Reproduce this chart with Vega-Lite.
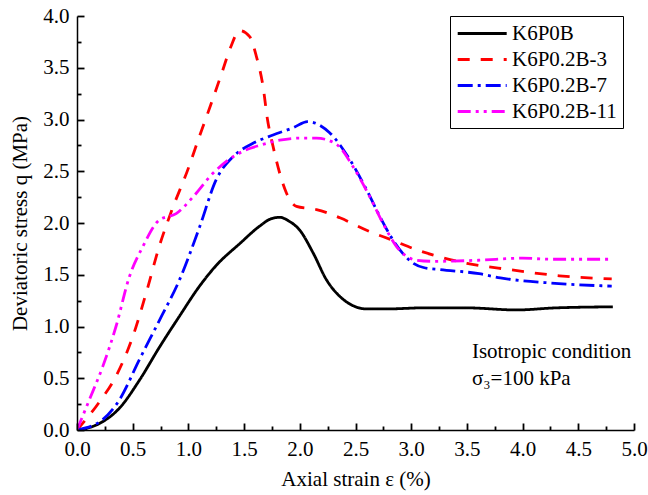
{
  "$schema": "https://vega.github.io/schema/vega-lite/v6.json",
  "width": 557,
  "height": 414,
  "autosize": {"type": "none"},
  "padding": {"left": 77, "top": 16, "right": 14, "bottom": 65},
  "background": "white",
  "datasets": {
    "curves": [
      {"sample": "K6P0B", "x": 0, "y": 0},
      {"sample": "K6P0B", "x": 0.1, "y": 0.02},
      {"sample": "K6P0B", "x": 0.23, "y": 0.08},
      {"sample": "K6P0B", "x": 0.38, "y": 0.21},
      {"sample": "K6P0B", "x": 0.56, "y": 0.48},
      {"sample": "K6P0B", "x": 0.74, "y": 0.8},
      {"sample": "K6P0B", "x": 0.92, "y": 1.1},
      {"sample": "K6P0B", "x": 1.1, "y": 1.39},
      {"sample": "K6P0B", "x": 1.25, "y": 1.59},
      {"sample": "K6P0B", "x": 1.46, "y": 1.8},
      {"sample": "K6P0B", "x": 1.64, "y": 1.97},
      {"sample": "K6P0B", "x": 1.74, "y": 2.04},
      {"sample": "K6P0B", "x": 1.82, "y": 2.055},
      {"sample": "K6P0B", "x": 1.9, "y": 2.02},
      {"sample": "K6P0B", "x": 2.0, "y": 1.93},
      {"sample": "K6P0B", "x": 2.12, "y": 1.71},
      {"sample": "K6P0B", "x": 2.24, "y": 1.45},
      {"sample": "K6P0B", "x": 2.36, "y": 1.29},
      {"sample": "K6P0B", "x": 2.48, "y": 1.2},
      {"sample": "K6P0B", "x": 2.6, "y": 1.17},
      {"sample": "K6P0B", "x": 2.8, "y": 1.17},
      {"sample": "K6P0B", "x": 3.1, "y": 1.18},
      {"sample": "K6P0B", "x": 3.5, "y": 1.18},
      {"sample": "K6P0B", "x": 3.94, "y": 1.16},
      {"sample": "K6P0B", "x": 4.3, "y": 1.18},
      {"sample": "K6P0B", "x": 4.81, "y": 1.19},

      {"sample": "K6P0.2B-3", "x": 0, "y": 0},
      {"sample": "K6P0.2B-3", "x": 0.2, "y": 0.27},
      {"sample": "K6P0.2B-3", "x": 0.35, "y": 0.52},
      {"sample": "K6P0.2B-3", "x": 0.5, "y": 0.9},
      {"sample": "K6P0.2B-3", "x": 0.62, "y": 1.32},
      {"sample": "K6P0.2B-3", "x": 0.74, "y": 1.78},
      {"sample": "K6P0.2B-3", "x": 0.85, "y": 2.12},
      {"sample": "K6P0.2B-3", "x": 1.0, "y": 2.53},
      {"sample": "K6P0.2B-3", "x": 1.1, "y": 2.84},
      {"sample": "K6P0.2B-3", "x": 1.2, "y": 3.14},
      {"sample": "K6P0.2B-3", "x": 1.3, "y": 3.45},
      {"sample": "K6P0.2B-3", "x": 1.38, "y": 3.7},
      {"sample": "K6P0.2B-3", "x": 1.46, "y": 3.86},
      {"sample": "K6P0.2B-3", "x": 1.55, "y": 3.8},
      {"sample": "K6P0.2B-3", "x": 1.61, "y": 3.61},
      {"sample": "K6P0.2B-3", "x": 1.67, "y": 3.32},
      {"sample": "K6P0.2B-3", "x": 1.71, "y": 3.0},
      {"sample": "K6P0.2B-3", "x": 1.76, "y": 2.74},
      {"sample": "K6P0.2B-3", "x": 1.82, "y": 2.48},
      {"sample": "K6P0.2B-3", "x": 1.88, "y": 2.29},
      {"sample": "K6P0.2B-3", "x": 1.97, "y": 2.16},
      {"sample": "K6P0.2B-3", "x": 2.15, "y": 2.13},
      {"sample": "K6P0.2B-3", "x": 2.36, "y": 2.05},
      {"sample": "K6P0.2B-3", "x": 2.6, "y": 1.93},
      {"sample": "K6P0.2B-3", "x": 2.84, "y": 1.83},
      {"sample": "K6P0.2B-3", "x": 3.05, "y": 1.74},
      {"sample": "K6P0.2B-3", "x": 3.2, "y": 1.69},
      {"sample": "K6P0.2B-3", "x": 3.5, "y": 1.61},
      {"sample": "K6P0.2B-3", "x": 3.88, "y": 1.55},
      {"sample": "K6P0.2B-3", "x": 4.33, "y": 1.49},
      {"sample": "K6P0.2B-3", "x": 4.8, "y": 1.46},

      {"sample": "K6P0.2B-7", "x": 0, "y": 0},
      {"sample": "K6P0.2B-7", "x": 0.23, "y": 0.1},
      {"sample": "K6P0.2B-7", "x": 0.38, "y": 0.29},
      {"sample": "K6P0.2B-7", "x": 0.56, "y": 0.68},
      {"sample": "K6P0.2B-7", "x": 0.74, "y": 1.06},
      {"sample": "K6P0.2B-7", "x": 0.92, "y": 1.45},
      {"sample": "K6P0.2B-7", "x": 1.1, "y": 1.96},
      {"sample": "K6P0.2B-7", "x": 1.25, "y": 2.42},
      {"sample": "K6P0.2B-7", "x": 1.4, "y": 2.64},
      {"sample": "K6P0.2B-7", "x": 1.58, "y": 2.77},
      {"sample": "K6P0.2B-7", "x": 1.76, "y": 2.85},
      {"sample": "K6P0.2B-7", "x": 1.94, "y": 2.92},
      {"sample": "K6P0.2B-7", "x": 2.07, "y": 2.98},
      {"sample": "K6P0.2B-7", "x": 2.27, "y": 2.87},
      {"sample": "K6P0.2B-7", "x": 2.45, "y": 2.61},
      {"sample": "K6P0.2B-7", "x": 2.6, "y": 2.32},
      {"sample": "K6P0.2B-7", "x": 2.72, "y": 2.06},
      {"sample": "K6P0.2B-7", "x": 2.84, "y": 1.83},
      {"sample": "K6P0.2B-7", "x": 3.02, "y": 1.61},
      {"sample": "K6P0.2B-7", "x": 3.11, "y": 1.57},
      {"sample": "K6P0.2B-7", "x": 3.26, "y": 1.55},
      {"sample": "K6P0.2B-7", "x": 3.61, "y": 1.51},
      {"sample": "K6P0.2B-7", "x": 3.8, "y": 1.47},
      {"sample": "K6P0.2B-7", "x": 4.25, "y": 1.42},
      {"sample": "K6P0.2B-7", "x": 4.8, "y": 1.39},

      {"sample": "K6P0.2B-11", "x": 0, "y": 0},
      {"sample": "K6P0.2B-11", "x": 0.11, "y": 0.29},
      {"sample": "K6P0.2B-11", "x": 0.23, "y": 0.61},
      {"sample": "K6P0.2B-11", "x": 0.35, "y": 1.0},
      {"sample": "K6P0.2B-11", "x": 0.47, "y": 1.48},
      {"sample": "K6P0.2B-11", "x": 0.59, "y": 1.77},
      {"sample": "K6P0.2B-11", "x": 0.74, "y": 2.03},
      {"sample": "K6P0.2B-11", "x": 0.89, "y": 2.09},
      {"sample": "K6P0.2B-11", "x": 1.04, "y": 2.25},
      {"sample": "K6P0.2B-11", "x": 1.22, "y": 2.48},
      {"sample": "K6P0.2B-11", "x": 1.4, "y": 2.64},
      {"sample": "K6P0.2B-11", "x": 1.55, "y": 2.72},
      {"sample": "K6P0.2B-11", "x": 1.64, "y": 2.75},
      {"sample": "K6P0.2B-11", "x": 1.82, "y": 2.8},
      {"sample": "K6P0.2B-11", "x": 2.0, "y": 2.82},
      {"sample": "K6P0.2B-11", "x": 2.15, "y": 2.82},
      {"sample": "K6P0.2B-11", "x": 2.33, "y": 2.76},
      {"sample": "K6P0.2B-11", "x": 2.48, "y": 2.54},
      {"sample": "K6P0.2B-11", "x": 2.63, "y": 2.25},
      {"sample": "K6P0.2B-11", "x": 2.75, "y": 1.99},
      {"sample": "K6P0.2B-11", "x": 2.87, "y": 1.77},
      {"sample": "K6P0.2B-11", "x": 3.05, "y": 1.64},
      {"sample": "K6P0.2B-11", "x": 3.2, "y": 1.63},
      {"sample": "K6P0.2B-11", "x": 3.6, "y": 1.64},
      {"sample": "K6P0.2B-11", "x": 4.0, "y": 1.66},
      {"sample": "K6P0.2B-11", "x": 4.25, "y": 1.65},
      {"sample": "K6P0.2B-11", "x": 4.8, "y": 1.65}
    ],
    "notes": [
      {"x": 3.545, "y": 0.696, "t": "Isotropic condition"},
      {"x": 3.545, "y": 0.435, "t": "σ₃=100 kPa"}
    ]
  },
  "layer": [
    {
      "data": {"name": "curves"},
      "mark": {"type": "line", "strokeWidth": 2.8, "interpolate": "monotone", "clip": true},
      "encoding": {
        "x": {
          "field": "x", "type": "quantitative",
          "scale": {"domain": [0, 5], "nice": false},
          "axis": {
            "orient": "bottom",
            "values": [0, 0.5, 1, 1.5, 2, 2.5, 3, 3.5, 4, 4.5, 5],
            "format": ".1f", "ticks": false, "labelPadding": 8,
            "labelFlush": false, "labelOverlap": false,
            "title": "Axial strain ε (%)", "titlePadding": 9
          }
        },
        "y": {
          "field": "y", "type": "quantitative",
          "scale": {"domain": [0, 4], "nice": false},
          "axis": {
            "orient": "left",
            "values": [0, 0.5, 1, 1.5, 2, 2.5, 3, 3.5, 4],
            "format": ".1f", "ticks": false, "labelPadding": 8,
            "labelFlush": false, "labelOverlap": false,
            "title": "Deviatoric stress q (MPa)", "titlePadding": 12
          }
        },
        "color": {
          "field": "sample", "type": "nominal",
          "scale": {
            "domain": ["K6P0B", "K6P0.2B-3", "K6P0.2B-7", "K6P0.2B-11"],
            "range": ["#000000", "#ff0000", "#0000ff", "#ff00ff"]
          },
          "legend": {
            "orient": "none", "legendX": 373, "legendY": 0, "title": null,
            "symbolType": "M-1,0H4", "symbolSize": 384, "symbolStrokeWidth": 3,
            "labelOffset": 33, "padding": 6, "rowPadding": 4,
            "strokeColor": "black", "fillColor": "white"
          }
        },
        "strokeDash": {
          "field": "sample", "type": "nominal",
          "scale": {
            "domain": ["K6P0B", "K6P0.2B-3", "K6P0.2B-7", "K6P0.2B-11"],
            "range": [[1, 0], [12, 11], [15, 5, 3, 5], [13, 5, 3, 5, 3, 5]]
          },
          "legend": {
            "orient": "none", "legendX": 373, "legendY": 0, "title": null,
            "symbolType": "M-1,0H4", "symbolSize": 384, "symbolStrokeWidth": 3,
            "labelOffset": 33, "padding": 6, "rowPadding": 4,
            "strokeColor": "black", "fillColor": "white"
          }
        }
      }
    },
    {
      "data": {"name": "notes"},
      "mark": {"type": "text", "align": "left", "baseline": "alphabetic", "font": "Liberation Serif", "fontSize": 21, "color": "black"},
      "encoding": {
        "x": {"field": "x", "type": "quantitative", "scale": {"domain": [0, 5], "nice": false}, "axis": null},
        "y": {"field": "y", "type": "quantitative", "scale": {"domain": [0, 4], "nice": false}, "axis": null},
        "text": {"field": "t", "type": "nominal"}
      }
    },
    {
      "data": {"name": "notes"},
      "mark": {"type": "point", "opacity": 0},
      "encoding": {
        "x": {
          "field": "x", "type": "quantitative",
          "scale": {"domain": [0, 5], "nice": false},
          "axis": {
            "orient": "bottom", "offset": -7, "zindex": 2,
            "values": [0, 0.5, 1, 1.5, 2, 2.5, 3, 3.5, 4, 4.5, 5],
            "labels": false, "domain": false, "tickColor": "#000000", "tickWidth": 1.8, "tickSize": 7, "title": null
          }
        },
        "y": {
          "field": "y", "type": "quantitative",
          "scale": {"domain": [0, 4], "nice": false},
          "axis": {
            "orient": "left", "offset": -7, "zindex": 2,
            "values": [0, 0.5, 1, 1.5, 2, 2.5, 3, 3.5, 4],
            "labels": false, "domain": false, "tickColor": "#000000", "tickWidth": 1.8, "tickSize": 7, "title": null
          }
        }
      }
    },
    {
      "data": {"name": "notes"},
      "mark": {"type": "point", "opacity": 0},
      "encoding": {
        "x": {
          "field": "x", "type": "quantitative",
          "scale": {"domain": [0, 5], "nice": false},
          "axis": {
            "orient": "bottom", "offset": -4, "zindex": 2,
            "values": [0.25, 0.75, 1.25, 1.75, 2.25, 2.75, 3.25, 3.75, 4.25, 4.75],
            "labels": false, "domain": false, "tickColor": "#000000", "tickWidth": 1.8, "tickSize": 4, "title": null
          }
        },
        "y": {
          "field": "y", "type": "quantitative",
          "scale": {"domain": [0, 4], "nice": false},
          "axis": {
            "orient": "left", "offset": -4, "zindex": 2,
            "values": [0.25, 0.75, 1.25, 1.75, 2.25, 2.75, 3.25, 3.75],
            "labels": false, "domain": false, "tickColor": "#000000", "tickWidth": 1.8, "tickSize": 4, "title": null
          }
        }
      }
    }
  ],
  "resolve": {"axis": {"x": "independent", "y": "independent"}},
  "config": {
    "view": {"stroke": null},
    "font": "Liberation Serif",
    "axis": {
      "labelFont": "Liberation Serif", "labelFontSize": 21, "labelColor": "black",
      "titleFont": "Liberation Serif", "titleFontSize": 21, "titleFontWeight": "normal", "titleColor": "black",
      "domainColor": "black", "domainWidth": 1.5, "tickWidth": 1.5, "grid": false
    },
    "legend": {
      "labelFont": "Liberation Serif", "labelFontSize": 21, "labelColor": "black"
    }
  }
}
